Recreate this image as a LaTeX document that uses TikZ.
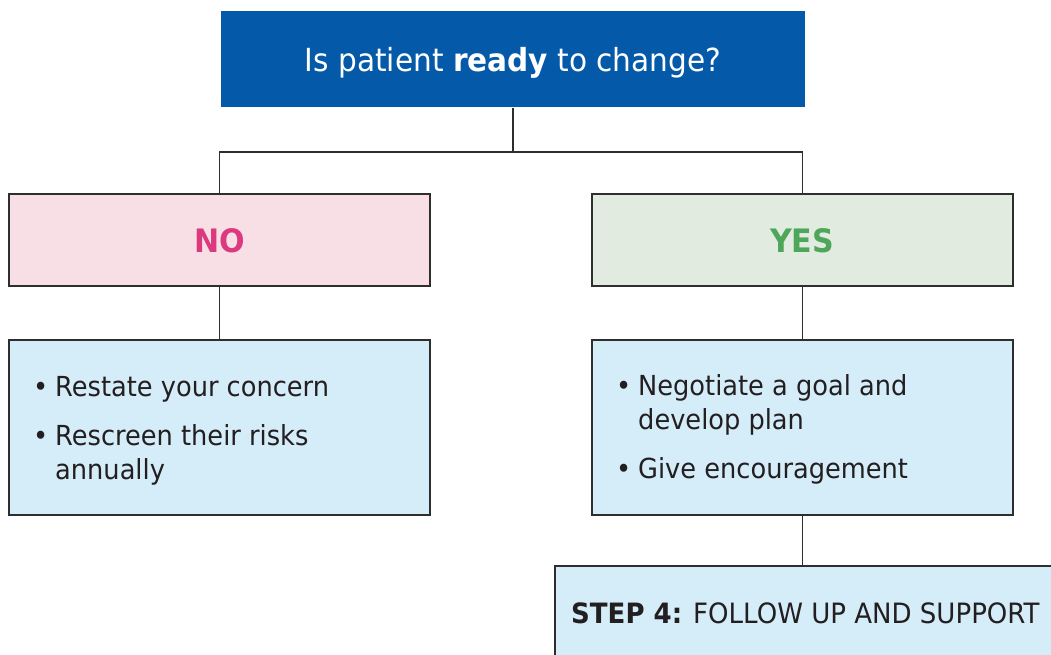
\documentclass[tikz,border=0pt]{standalone}
\usepackage{fontspec}
\setmainfont{DejaVu Sans}[FakeStretch=0.93]
\definecolor{topblue}{HTML}{045AA9}
\definecolor{pinkfill}{HTML}{F8DFE6}
\definecolor{notext}{HTML}{DB3A7F}
\definecolor{greenfill}{HTML}{E2EBDF}
\definecolor{yestext}{HTML}{4DA65A}
\definecolor{listfill}{HTML}{D5ECF9}
\definecolor{edge}{HTML}{2E2E2E}
\definecolor{ink}{HTML}{231F20}
\tikzset{
  x=1pt, y=-1pt,
  box/.style={draw=edge, line width=1.3pt, rectangle, inner sep=0pt},
  conn/.style={draw=edge, line width=1.3pt},
  label/.style={anchor=base, inner sep=0pt},
  listtext/.style={anchor=base west, inner sep=0pt, text=ink, font=\fontsize{27.6}{34}\selectfont},
}
\begin{document}
\begin{tikzpicture}
\useasboundingbox (0,0) rectangle (1051,655);
\clip (0,0) rectangle (1051,655);
\node[box, draw=none, fill=topblue, minimum width=584pt, minimum height=96pt] (top) at (513,59) {};
\node[label, text=white, font=\fontsize{31.8}{36}\selectfont] (ttop) at (513,72) {Is patient \textbf{ready} to change?};
\node[box, fill=pinkfill, minimum width=421pt, minimum height=92pt] (no) at (219.5,240) {};
\node[label, text=notext, font=\fontsize{32.3}{38}\selectfont\bfseries] (tno) at (220,252) {NO};
\node[box, fill=greenfill, minimum width=421pt, minimum height=92pt] (yes) at (802.5,240) {};
\node[label, text=yestext, font=\fontsize{32.3}{38}\selectfont\bfseries] (tyes) at (802,252) {YES};
\node[box, fill=listfill, minimum width=421pt, minimum height=175pt] (lnoi) at (219.5,427.5) {};
\node[box, fill=listfill, minimum width=421pt, minimum height=175pt] (lyes) at (802.5,427.5) {};
\node[box, fill=listfill, minimum width=545pt, minimum height=134pt] (step) at (827.5,633) {};
\node[listtext] (tlno) at (33,396) {\begin{tabular}[t]{@{}p{22pt}@{}l@{}}
\textbullet & Restate your concern\\[15pt]
\textbullet & Rescreen their risks\\
 & annually
\end{tabular}};
\node[listtext] (tlyes) at (616,395) {\begin{tabular}[t]{@{}p{22pt}@{}l@{}}
\textbullet & Negotiate a goal and\\
 & develop plan\\[15pt]
\textbullet & Give encouragement
\end{tabular}};
\node[anchor=base west, inner sep=0pt, text=ink, font=\fontsize{28}{34}\selectfont] (tstep) at (571,623)
  {\textbf{STEP 4:} FOLLOW UP AND SUPPORT};
\coordinate (bus) at (0,152);
\draw[conn] (top.south) -- (top.south |- bus) -| (no.north);
\draw[conn] (top.south |- bus) -| (yes.north);
\draw[conn] (no.south) -- (lnoi.north);
\draw[conn] (yes.south) -- (lyes.north);
\draw[conn] (lyes.south) -- (lyes.south |- step.north);
\end{tikzpicture}
\end{document}
